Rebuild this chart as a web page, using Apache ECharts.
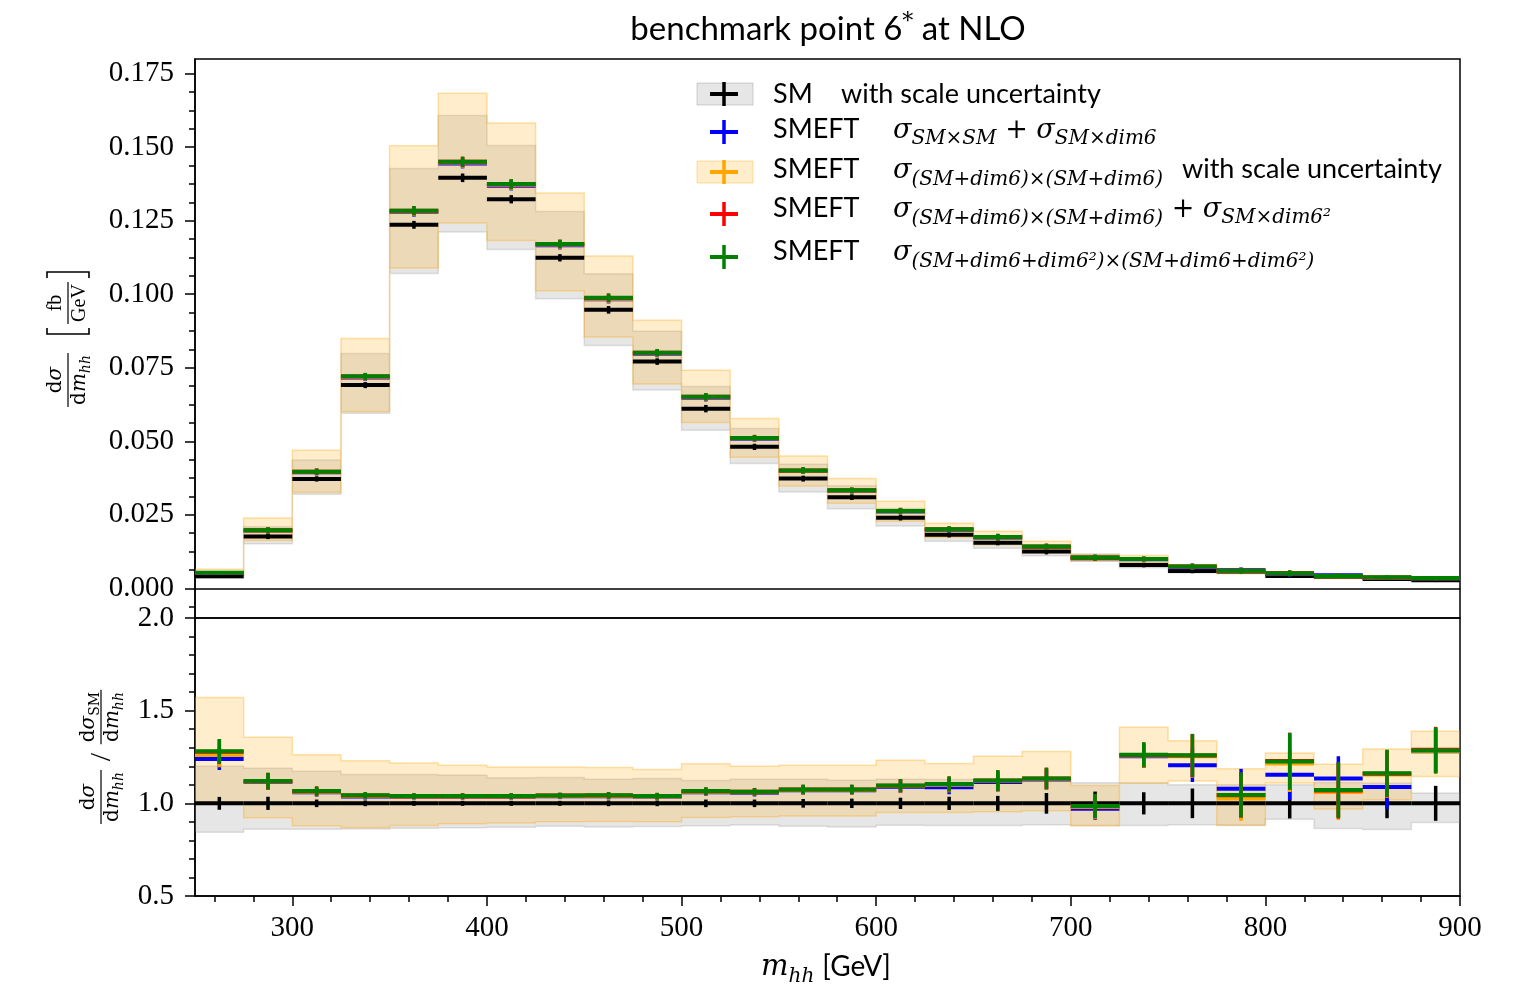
<!DOCTYPE html>
<html>
<head>
<meta charset="utf-8">
<script src="https://cdn.jsdelivr.net/npm/echarts@6/dist/echarts.min.js"></script>
<style>
  html, body { margin: 0; padding: 0; background: #fff; }
  #chart { width: 1532px; height: 988px; }
</style>
</head>
<body>
<div id="chart"></div>
<script>
// ---- binning in m_hh [GeV] ----
const binEdges = [250, 275, 300, 325, 350, 375, 400, 425, 450, 475, 500, 525, 550, 575,
                  600, 625, 650, 675, 700, 725, 750, 775, 800, 825, 850, 875, 900];

// ---- dσ/dm_hh [fb/GeV], SM at NLO ----
const smXsec    = [0.0041, 0.0176, 0.0372, 0.0691, 0.1236, 0.1396, 0.1323, 0.1124, 0.0947, 0.0771, 0.0611, 0.0481, 0.0373,
                   0.0310, 0.0240, 0.0182, 0.0155, 0.0125, 0.0105, 0.0079, 0.0059, 0.0057, 0.0042, 0.0039, 0.0032, 0.0027];
const smStatErr = [0.00012, 0.00053, 0.00056, 0.00069, 0.00099, 0.00112, 0.00106, 0.00090, 0.00095, 0.00077, 0.00092, 0.00072, 0.00067,
                   0.00062, 0.00060, 0.00055, 0.00054, 0.00063, 0.00061, 0.00043, 0.00044, 0.00043, 0.00032, 0.00027, 0.00024, 0.00024];
const smScaleLo = [0.00346, 0.01514, 0.03199, 0.05956, 0.10704, 0.12117, 0.11523, 0.09846, 0.08258, 0.06746, 0.05371, 0.04247, 0.03271,
                   0.02703, 0.02117, 0.01602, 0.01364, 0.01106, 0.00924, 0.00695, 0.00522, 0.00502, 0.00384, 0.00337, 0.00275, 0.00242];
const smScaleHi = [0.00492, 0.02094, 0.04364, 0.07981, 0.14276, 0.16082, 0.15056, 0.12814, 0.10701, 0.08743, 0.06862, 0.05435, 0.04215,
                   0.03488, 0.02712, 0.02053, 0.01744, 0.01413, 0.01166, 0.00877, 0.00649, 0.00627, 0.00462, 0.00434, 0.00355, 0.00285];

// ---- SMEFT, benchmark point 6* ----
// σ_SM×SM + σ_SM×dim6
const smeftLinear    = [0.00508, 0.01962, 0.03943, 0.07166, 0.12793, 0.14449, 0.13693, 0.11667, 0.09830, 0.07980, 0.06477, 0.05084, 0.03991,
                        0.03317, 0.02616, 0.01979, 0.01728, 0.01410, 0.01020, 0.00991, 0.00711, 0.00615, 0.00485, 0.00442, 0.00348, 0.00346];
const smeftLinearErr = [0.00022, 0.00065, 0.00070, 0.00080, 0.00120, 0.00135, 0.00130, 0.00110, 0.00110, 0.00090, 0.00090, 0.00070, 0.00070,
                        0.00060, 0.00070, 0.00060, 0.00072, 0.00060, 0.00058, 0.00045, 0.00050, 0.00058, 0.00055, 0.00045, 0.00036, 0.00030];
// σ_(SM+dim6)×(SM+dim6)
const smeftSquared   = [0.00517, 0.01968, 0.03954, 0.07186, 0.12817, 0.14477, 0.13720, 0.11690, 0.09849, 0.07995, 0.06495, 0.05099, 0.03999,
                        0.03323, 0.02623, 0.02002, 0.01736, 0.01414, 0.01029, 0.00994, 0.00740, 0.00585, 0.00510, 0.00414, 0.00370, 0.00346];
// σ_(SM+dim6)×(SM+dim6) + σ_SM×dim6²
const smeftSquaredPlus = [0.00524, 0.01970, 0.03965, 0.07206, 0.12840, 0.14502, 0.13744, 0.11710, 0.09875, 0.08010, 0.06512, 0.05110, 0.04009,
                          0.03332, 0.02629, 0.02010, 0.01740, 0.01417, 0.01034, 0.00996, 0.00742, 0.00595, 0.00516, 0.00417, 0.00371, 0.00348];
// σ_(SM+dim6+dim6²)×(SM+dim6+dim6²)
const smeftFull      = [0.00525, 0.01971, 0.03966, 0.07207, 0.12842, 0.14504, 0.13746, 0.11712, 0.09877, 0.08011, 0.06513, 0.05111, 0.04010,
                        0.03333, 0.02630, 0.02011, 0.01741, 0.01418, 0.01035, 0.00997, 0.00743, 0.00596, 0.00515, 0.00418, 0.00372, 0.00347];
const smeftStatErr   = [0.00025, 0.00070, 0.00074, 0.00083, 0.00124, 0.00140, 0.00132, 0.00112, 0.00114, 0.00093, 0.00092, 0.00072, 0.00075,
                        0.00062, 0.00072, 0.00064, 0.00078, 0.00066, 0.00063, 0.00049, 0.00065, 0.00066, 0.00062, 0.00057, 0.00039, 0.00032];
// scale band of σ_(SM+dim6)×(SM+dim6)
const smeftScaleLo   = [0.00410, 0.01624, 0.03270, 0.06012, 0.10889, 0.12424, 0.11828, 0.10116, 0.08542, 0.06947, 0.05640, 0.04459, 0.03476,
                        0.02889, 0.02280, 0.01729, 0.01480, 0.01200, 0.00923, 0.00877, 0.00661, 0.00503, 0.00466, 0.00378, 0.00326, 0.00309];
const smeftScaleHi   = [0.00644, 0.02388, 0.04695, 0.08499, 0.15054, 0.16836, 0.15823, 0.13443, 0.11298, 0.09113, 0.07418, 0.05772, 0.04495,
                        0.03736, 0.02957, 0.02210, 0.01944, 0.01600, 0.01151, 0.01114, 0.00789, 0.00676, 0.00534, 0.00472, 0.00414, 0.00375];

// ---- axis ticks ----
const xTicks        = [300, 400, 500, 600, 700, 800, 900];
const xMinorTicks   = [260, 280, 320, 340, 360, 380, 420, 440, 460, 480, 520, 540, 560, 580,
                       620, 640, 660, 680, 720, 740, 760, 780, 820, 840, 860, 880];
const yTicksTop     = [0, 0.025, 0.05, 0.075, 0.1, 0.125, 0.15, 0.175];
const yMinorTop     = [-0.00625, 0.00625, 0.0125, 0.01875, 0.03125, 0.0375, 0.04375, 0.05625, 0.0625, 0.06875,
                       0.08125, 0.0875, 0.09375, 0.10625, 0.1125, 0.11875, 0.13125, 0.1375, 0.14375,
                       0.15625, 0.1625, 0.16875];
const yTicksRatio   = [0.5, 1.0, 1.5, 2.0];
const yMinorRatio   = [0.6, 0.7, 0.8, 0.9, 1.1, 1.2, 1.3, 1.4, 1.6, 1.7, 1.8, 1.9];

// ---- styling ----
const SERIF = '"Liberation Serif", serif';
const MATH  = '"DejaVu Serif", serif';
const SANS  = 'Lato, "Open Sans", sans-serif';
const MID = { [SERIF]: 0.34, [MATH]: 0.35, [SANS]: 0.39 };

const C = {
  sm: '#000000', blue: '#0000ff', orange: '#ffa500', red: '#ff0000', green: '#008000',
  grayFill: 'rgba(128,128,128,0.2)', grayEdge: 'rgba(128,128,128,0.22)',
  orangeFill: 'rgba(255,165,0,0.2)', orangeEdge: 'rgba(255,165,0,0.32)'
};

// ---- helpers for building series data ----
function barData(vals, errs, norm) {
  return vals.map((v, i) => {
    const d = norm ? norm[i] : 1;
    return [binEdges[i], binEdges[i + 1], v / d, errs[i] / d];
  });
}
function bandData(lo, hi, norm) {
  return lo.map((l, i) => {
    const d = norm ? norm[i] : 1;
    return [binEdges[i], binEdges[i + 1], l / d, hi[i] / d];
  });
}

// step band drawn as one polygon through the axis scales
function bandSeries(name, data, fill, edge, xi, yi) {
  return {
    type: 'custom', name, xAxisIndex: xi, yAxisIndex: yi, z: 1, clip: true, silent: true,
    data: [0],
    renderItem(params, api) {
      const up = [], dn = [];
      data.forEach(d => {
        up.push(api.coord([d[0], d[3]]), api.coord([d[1], d[3]]));
        dn.push(api.coord([d[0], d[2]]), api.coord([d[1], d[2]]));
      });
      const pts = up.concat(dn.reverse());
      return { type: 'polygon', shape: { points: pts }, style: { fill, stroke: edge, lineWidth: 1.5 } };
    }
  };
}

// histogram bar over the bin width with a vertical error bar at the bin centre
function barSeries(name, data, color, xi, yi, z) {
  return {
    type: 'custom', name, xAxisIndex: xi, yAxisIndex: yi, z, clip: true, silent: true,
    data,
    renderItem(params, api) {
      const x0 = api.value(0), x1 = api.value(1), v = api.value(2), e = api.value(3);
      const xc = (x0 + x1) / 2;
      const a = api.coord([x0, v]), b = api.coord([x1, v]);
      const t = api.coord([xc, v + e]), s = api.coord([xc, v - e]);
      return {
        type: 'group', children: [
          { type: 'line', shape: { x1: a[0], y1: a[1], x2: b[0], y2: b[1] }, style: { stroke: color, lineWidth: 4 } },
          { type: 'line', shape: { x1: t[0], y1: t[1] - 1, x2: s[0], y2: s[1] + 1 }, style: { stroke: color, lineWidth: 3.5 } }
        ]
      };
    }
  };
}

// ---- text layout helpers (mixed fonts, sub/superscripts) ----
const mctx = document.createElement('canvas').getContext('2d');
function fontOf(p) { return (p.it ? 'italic ' : '') + p.size + 'px ' + (p.fam || MATH); }
function widthOf(p) { mctx.font = fontOf(p); return mctx.measureText(p.t).width; }
function textRun(parts, x, base, anchor) {
  const ws = parts.map(p => widthOf(p) + (p.gap || 0));
  const total = ws.reduce((a, b) => a + b, 0);
  let cx = anchor === 'center' ? x - total / 2 : (anchor === 'right' ? x - total : x);
  return parts.map((p, i) => {
    const fam = p.fam || MATH;
    const el = {
      type: 'text', x: cx, y: base + (p.dy || 0) - (MID[fam] || 0.35) * p.size, silent: true,
      style: { text: p.t, font: fontOf(p), fill: p.color || '#000',
               align: 'left', textAlign: 'left', verticalAlign: 'middle', textVerticalAlign: 'middle' }
    };
    cx += ws[i];
    return el;
  });
}
function runWidth(parts) { return parts.reduce((a, p) => a + widthOf(p) + (p.gap || 0), 0); }

// a fraction in local coordinates centred on (cx, 0)
function fraction(num, den, cx) {
  const w = Math.max(runWidth(num), runWidth(den)) + 4;
  return [
    ...textRun(num, cx, -5, 'center'),
    { type: 'line', silent: true, shape: { x1: cx - w / 2, y1: 0, x2: cx + w / 2, y2: 0 }, style: { stroke: '#000', lineWidth: 1.2 } },
    ...textRun(den, cx, 19, 'center')
  ];
}
function bracket(x, dir) {
  return { type: 'polyline', silent: true,
    shape: { points: [[x + 6 * dir, -21], [x, -21], [x, 21], [x + 6 * dir, 21]] },
    style: { stroke: '#000', lineWidth: 1.6, fill: null } };
}
const dSig   = [{ t: 'd', size: 20 }, { t: 'σ', size: 20, it: true }];
const dMhh   = [{ t: 'd', size: 20 }, { t: 'm', size: 20, it: true }, { t: 'hh', size: 14, it: true, dy: 4 }];
const dSigSM = [{ t: 'd', size: 20 }, { t: 'σ', size: 20, it: true }, { t: 'SM', size: 14, dy: 4 }];

const topYLabel = {
  type: 'group', x: 68, y: 340, rotation: Math.PI / 2, silent: true,
  children: [
    ...fraction(dSig, dMhh, -40),
    bracket(6, 1),
    ...fraction([{ t: 'fb', size: 20, fam: SERIF }], [{ t: 'GeV', size: 20, fam: SERIF }], 37),
    bracket(68, -1)
  ]
};
const ratioYLabel = {
  type: 'group', x: 101, y: 757, rotation: Math.PI / 2, silent: true,
  children: [
    ...fraction(dSig, dMhh, -40),
    ...textRun([{ t: '/', size: 30, fam: SERIF }], 0, 11, 'center'),
    ...fraction(dSigSM, dMhh, 40)
  ]
};

// ---- legend ----
const legendRows = [
  { cy: 94,  color: C.sm,     box: C.grayFill,   boxEdge: 'rgba(128,128,128,0.35)' },
  { cy: 132, color: C.blue },
  { cy: 172, color: C.orange, box: C.orangeFill, boxEdge: 'rgba(255,165,0,0.35)' },
  { cy: 214, color: C.red },
  { cy: 257, color: C.green }
];
const legendEls = [];
legendRows.forEach(r => {
  if (r.box) {
    legendEls.push({ type: 'rect', silent: true, shape: { x: 697, y: r.cy - 11, width: 56, height: 22 },
                     style: { fill: r.box, stroke: r.boxEdge, lineWidth: 1 } });
  }
  legendEls.push({ type: 'line', silent: true, shape: { x1: 710, y1: r.cy, x2: 738, y2: r.cy }, style: { stroke: r.color, lineWidth: 4 } });
  legendEls.push({ type: 'line', silent: true, shape: { x1: 724, y1: r.cy - 12, x2: 724, y2: r.cy + 12 }, style: { stroke: r.color, lineWidth: 3.5 } });
});
const L = 27, M = 27, S = 20;
const sig = { t: 'σ', size: M, it: true };
const plus = { t: ' + ', size: M };
legendEls.push(
  ...textRun([{ t: 'SM', size: L, fam: SANS }], 773, 105),
  ...textRun([{ t: 'with scale uncertainty', size: L, fam: SANS }], 841, 105),
  ...textRun([{ t: 'SMEFT', size: L, fam: SANS }], 773, 140),
  ...textRun([sig, { t: 'SM×SM', size: S, it: true, dy: 6 }, plus, sig, { t: 'SM×dim6', size: S, it: true, dy: 6 }], 893, 140),
  ...textRun([{ t: 'SMEFT', size: L, fam: SANS }], 773, 180),
  ...textRun([sig, { t: '(SM+dim6)×(SM+dim6)', size: S, it: true, dy: 7 }], 893, 180),
  ...textRun([{ t: 'with scale uncertainty', size: L, fam: SANS }], 1182, 180),
  ...textRun([{ t: 'SMEFT', size: L, fam: SANS }], 773, 219),
  ...textRun([sig, { t: '(SM+dim6)×(SM+dim6)', size: S, it: true, dy: 7 }, plus, sig, { t: 'SM×dim6²', size: S, it: true, dy: 6 }], 893, 219),
  ...textRun([{ t: 'SMEFT', size: L, fam: SANS }], 773, 262),
  ...textRun([sig, { t: '(SM+dim6+dim6²)×(SM+dim6+dim6²)', size: S, it: true, dy: 7 }], 893, 262)
);

// ---- title and x-axis title ----
const titleEls = textRun([
  { t: 'benchmark point 6', size: 33, fam: SANS },
  { t: '*', size: 22, fam: MATH, dy: -12 },
  { t: ' at NLO', size: 33, fam: SANS }
], 828, 42, 'center');
const xTitleEls = textRun([
  { t: 'm', size: 29, it: true },
  { t: 'hh', size: 20, it: true, dy: 6, gap: 8 },
  { t: '[GeV]', size: 28, fam: SANS }
], 826, 978, 'center');

// ---- chart ----
const axisText = { fontFamily: SERIF, fontSize: 29, color: '#000' };
const blackLine = { color: '#000', width: 1.5 };
const X_MIN = 250, X_MAX = 900;

const option = {
  animation: false,
  backgroundColor: '#fff',
  grid: [
    { left: 195, top: 59, width: 1265, height: 559, show: true, borderColor: '#000', borderWidth: 1.5, containLabel: false, outerBoundsMode: 'none' },
    { left: 195, top: 618, width: 1265, height: 278, show: true, borderColor: '#000', borderWidth: 1.5, containLabel: false, outerBoundsMode: 'none' }
  ],
  xAxis: [
    { type: 'value', gridIndex: 0, position: 'bottom', min: X_MIN, max: X_MAX, axisLine: { show: true, lineStyle: blackLine },
      axisTick: { show: false }, axisLabel: { show: false }, splitLine: { show: false } },
    { type: 'value', gridIndex: 1, position: 'bottom', offset: 0, min: X_MIN, max: X_MAX, axisLine: { show: true, lineStyle: blackLine },
      axisTick: { show: true, customValues: xTicks, length: 10, lineStyle: blackLine },
      axisLabel: Object.assign({ customValues: xTicks, margin: 18 }, axisText), splitLine: { show: false } },
    { type: 'value', gridIndex: 1, position: 'bottom', offset: 0, min: X_MIN, max: X_MAX, axisLine: { show: false },
      axisTick: { show: true, customValues: xMinorTicks, length: 6, lineStyle: blackLine },
      axisLabel: { show: false }, splitLine: { show: false } }
  ],
  yAxis: [
    { type: 'value', gridIndex: 0, position: 'left', offset: 0, min: -0.0101, max: 0.18, axisLine: { show: true, lineStyle: blackLine },
      axisTick: { show: true, customValues: yTicksTop, length: 10, lineStyle: blackLine },
      axisLabel: Object.assign({ customValues: yTicksTop, margin: 21, formatter: v => v.toFixed(3) }, axisText),
      splitLine: { show: false } },
    { type: 'value', gridIndex: 0, position: 'left', offset: 0, min: -0.0101, max: 0.18, axisLine: { show: false },
      axisTick: { show: true, customValues: yMinorTop, length: 6, lineStyle: blackLine },
      axisLabel: { show: false }, splitLine: { show: false } },
    { type: 'value', gridIndex: 1, position: 'left', offset: 0, min: 0.5, max: 2.0, axisLine: { show: true, lineStyle: blackLine },
      axisTick: { show: true, customValues: yTicksRatio, length: 10, lineStyle: blackLine },
      axisLabel: Object.assign({ customValues: yTicksRatio, margin: 21, formatter: v => v.toFixed(1) }, axisText),
      splitLine: { show: false } },
    { type: 'value', gridIndex: 1, position: 'left', offset: 0, min: 0.5, max: 2.0, axisLine: { show: false },
      axisTick: { show: true, customValues: yMinorRatio, length: 6, lineStyle: blackLine },
      axisLabel: { show: false }, splitLine: { show: false } }
  ],
  series: [
    // upper panel: differential cross sections
    bandSeries('SM scale', bandData(smScaleLo, smScaleHi), C.grayFill, C.grayEdge, 0, 0),
    bandSeries('SMEFT scale', bandData(smeftScaleLo, smeftScaleHi), C.orangeFill, C.orangeEdge, 0, 0),
    barSeries('SM', barData(smXsec, smStatErr), C.sm, 0, 0, 3),
    barSeries('SMEFT linear', barData(smeftLinear, smeftLinearErr), C.blue, 0, 0, 4),
    barSeries('SMEFT squared', barData(smeftSquared, smeftStatErr), C.orange, 0, 0, 5),
    barSeries('SMEFT squared + dim6²', barData(smeftSquaredPlus, smeftStatErr), C.red, 0, 0, 6),
    barSeries('SMEFT full', barData(smeftFull, smeftStatErr), C.green, 0, 0, 7),
    // lower panel: ratios to the SM
    bandSeries('SM scale ratio', bandData(smScaleLo, smScaleHi, smXsec), C.grayFill, C.grayEdge, 1, 2),
    bandSeries('SMEFT scale ratio', bandData(smeftScaleLo, smeftScaleHi, smXsec), C.orangeFill, C.orangeEdge, 1, 2),
    barSeries('SM ratio', barData(smXsec, smStatErr, smXsec), C.sm, 1, 2, 3),
    barSeries('SMEFT linear ratio', barData(smeftLinear, smeftLinearErr, smXsec), C.blue, 1, 2, 4),
    barSeries('SMEFT squared ratio', barData(smeftSquared, smeftStatErr, smXsec), C.orange, 1, 2, 5),
    barSeries('SMEFT squared + dim6² ratio', barData(smeftSquaredPlus, smeftStatErr, smXsec), C.red, 1, 2, 6),
    barSeries('SMEFT full ratio', barData(smeftFull, smeftStatErr, smXsec), C.green, 1, 2, 7)
  ],
  graphic: [
    ...titleEls,
    ...xTitleEls,
    topYLabel,
    ratioYLabel,
    { type: 'group', silent: true, z: 100, children: legendEls }
  ]
};

const chart = echarts.init(document.getElementById('chart'), null, { renderer: 'canvas', width: 1532, height: 988 });
chart.setOption(option);
</script>
</body>
</html>
